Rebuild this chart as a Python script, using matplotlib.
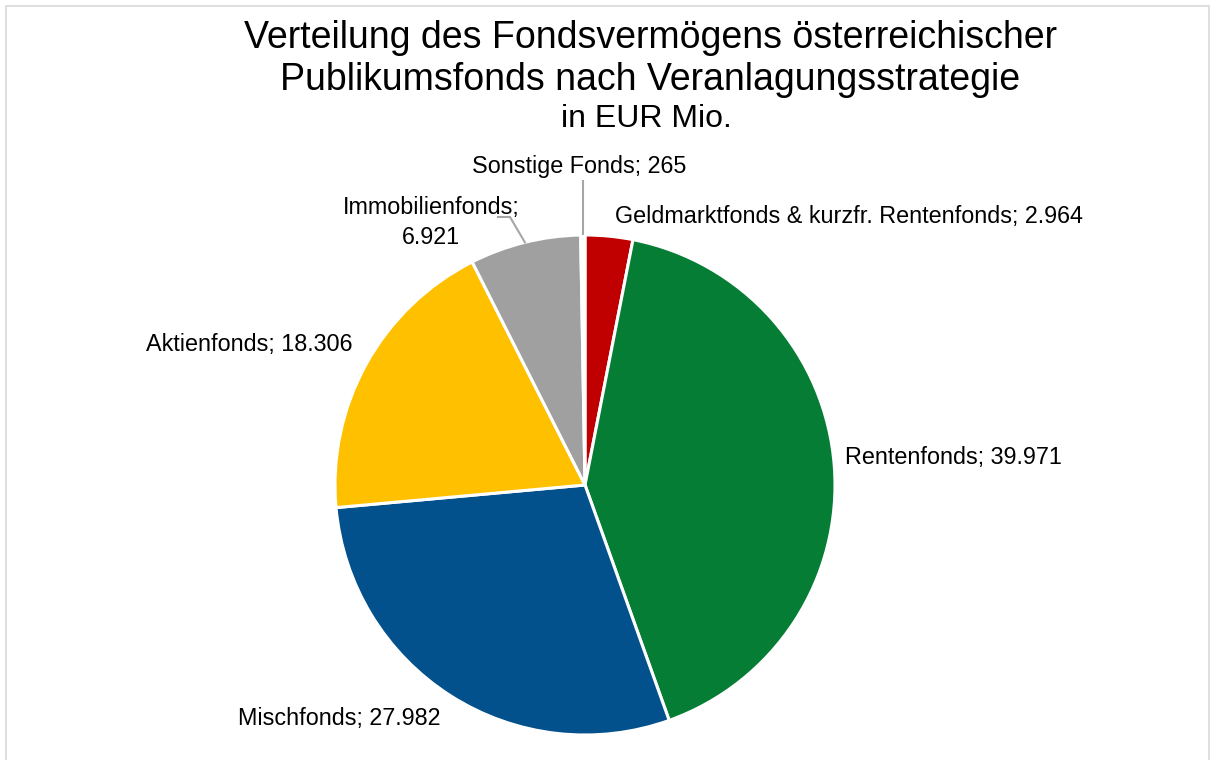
import matplotlib
matplotlib.use("Agg")
import matplotlib.pyplot as plt
import numpy as np
from matplotlib.patches import Rectangle

plt.rcParams['font.family'] = ['Liberation Sans', 'DejaVu Sans']

categories = ["Geldmarktfonds & kurzfr. Rentenfonds", "Rentenfonds", "Mischfonds",
              "Aktienfonds", "Immobilienfonds", "Sonstige Fonds"]
values = [2964, 39971, 27982, 18306, 6921, 265]
value_labels = ["2.964", "39.971", "27.982", "18.306", "6.921", "265"]
colors = ["#C00000", "#067D35", "#02508C", "#FFC000", "#A0A0A0", "#FFFFFF"]

W, H, DPI = 12.12, 7.6, 100
fig = plt.figure(figsize=(W, H), dpi=DPI)
ax = fig.add_axes([0, 0, 1, 1])

wedges, _ = ax.pie(values, colors=colors, startangle=90, counterclock=False,
                   wedgeprops=dict(edgecolor="white", linewidth=2.2))

cx, cy, r = 585, 485, 250  # pixel layout
ax.set_xlim(-cx / r, (W * DPI - cx) / r)
ax.set_ylim(-(H * DPI - cy) / r, cy / r)
ax.set_aspect('equal', adjustable='box')
ax.axis('off')

fs = 16.8
# label layout: (x, y, ha, va)
layout = {
    0: (0.12, 1.072, 'left', 'center'),
    1: (1.04, 0.108, 'left', 'center'),
    2: (-0.58, -0.932, 'right', 'center'),
    3: (-0.932, 0.56, 'right', 'center'),
    4: (-0.616, 1.05, 'center', 'center'),
    5: (-0.024, 1.272, 'center', 'center'),
}
for i, (x, y, ha, va) in layout.items():
    sep = ";\n" if i == 4 else "; "
    ax.text(x, y, f"{categories[i]}{sep}{value_labels[i]}", ha=ha, va=va,
            fontsize=fs, color="black", linespacing=1.4)

def edge_point(w):
    ang = np.deg2rad((w.theta1 + w.theta2) / 2)
    return np.cos(ang), np.sin(ang)

# Sonstige leader line
ex, ey = edge_point(wedges[5])
ax.plot([ex, ex], [ey, 1.22], color="#A6A6A6", lw=1.5, solid_capstyle='butt')
# Immobilien leader line
ex, ey = edge_point(wedges[4])
ax.plot([-0.348, -0.30, ex], [1.072, 1.072, ey], color="#A6A6A6", lw=1.5)

fig.text(650 / 1212, 1 - 38 / 760, "Verteilung des Fondsvermögens österreichischer",
         ha='center', va='center', fontsize=27)
fig.text(650 / 1212, 1 - 80 / 760, "Publikumsfonds nach Veranlagungsstrategie",
         ha='center', va='center', fontsize=27)
fig.text(646 / 1212, 1 - 119 / 760, "in EUR Mio.", ha='center', va='center', fontsize=23)

fig.patches.append(Rectangle((6 / 1212, -0.01), 1203 / 1212, 1 - 6 / 760 + 0.01,
                             transform=fig.transFigure, fill=False,
                             edgecolor="#D9D9D9", lw=1.2))

fig.savefig("out.png", dpi=DPI)
